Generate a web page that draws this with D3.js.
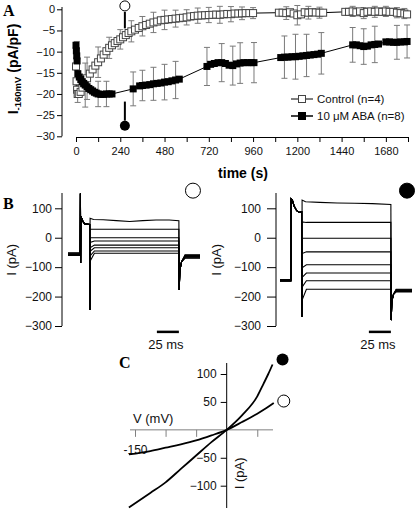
<!DOCTYPE html>
<html><head><meta charset="utf-8">
<script src="https://cdn.jsdelivr.net/npm/d3@7"></script>
<style>
html,body{margin:0;padding:0;background:#fff;}
svg{display:block;font-family:Arial,"Liberation Sans",sans-serif;}
</style></head><body>
<svg id="c" width="415" height="511"></svg>
<script>
// ===== Panel A data =====
const timeTicks = [0,240,480,720,960,1200,1440,1680];
const timeMinorTicks = [0,120,240,360,480,600,720,840,960,1080,1200,1320,1440,1560,1680,1800];
const yTicksA = [0,-5,-10,-15,-20,-25,-30];
const legendLabels = ["Control (n=4)", "10 \u03bcM ABA (n=8)"];

const ctrlT = [0,3,6,9,15,25,35,45,60,75,90,105,120,135,150,165,180,195,210,225,240,255,270,285,300,320,340,360,380,400,420,440,460,480,500,520,540,560,580,600,620,640,660,680,700,720,740,760,780,800,820,840,860,880,900,920,940,960,
 1100,1120,1140,1160,1180,1200,1220,1240,1260,1280,1300,1320,1340,
 1460,1480,1500,1520,1540,1560,1580,1600,1620,1640,1660,1680,1700,1720,1740,1760,1780,1795];
const ctrlI = [-13.5,-17,-19,-20,-20,-19.5,-18.5,-17.5,-16.3,-15.2,-14.2,-13.3,-12.5,-11.6,-10.7,-9.9,-9.1,-8.5,-8.0,-7.5,-7.1,-6.6,-6.1,-5.6,-5.2,-4.8,-4.4,-4.0,-3.7,-3.4,-3.1,-2.9,-2.6,-2.5,-2.4,-2.3,-2.2,-2.1,-2.0,-1.9,-1.7,-1.6,-1.5,-1.45,-1.4,-1.35,-1.3,-1.25,-1.3,-1.2,-1.1,-1.15,-1.0,-1.0,-0.95,-0.9,-0.9,-0.9,
 -0.8,-0.8,-0.9,-0.7,-1.0,-1.4,-1.2,-0.7,-0.8,-0.7,-0.75,-0.8,-0.8,
 -0.6,-0.6,-0.5,-0.7,-0.5,-0.9,-0.6,-0.5,-0.6,-0.5,-0.6,-0.5,-0.6,-0.6,-0.8,-0.9,-1.0,-1.2];
const ctrlErrT  = [9,60,120,180,240,300,360,420,480,540,600,660,720,780,840,900,960,1140,1200,1260,1320,1500,1560,1620,1680,1740,1780];
const ctrlErrSE = [2,5,3.6,2.5,2.3,2.5,2.3,2.4,2.3,2,1.8,1.8,1.8,2,1.8,1.5,1.3,1.5,2.3,1.5,1.3,1.2,1.3,1.3,1.2,1.2,1.2];

const abaT = [0,2,4,6,10,18,26,34,42,50,60,70,80,90,100,110,120,135,150,165,180,195,
 310,
 345,360,380,400,420,440,460,480,500,520,540,560,
 710,730,750,770,790,810,830,850,870,890,910,930,950,965,
 1110,1130,1150,1170,1190,1210,1230,1250,1270,1290,1310,1330,
 1500,1520,1540,1560,1580,1600,1620,1640,
 1680,1700,1720,1740,1760,1780,1795];
const abaI = [-8.5,-9.8,-11,-12.2,-15.2,-16,-16.6,-17.1,-17.5,-17.9,-18.3,-18.7,-19,-19.3,-19.6,-19.8,-20,-20.1,-20.1,-20,-20,-20,
 -18.8,
 -18.1,-18,-17.9,-17.8,-17.6,-17.5,-17.4,-17.2,-17.1,-16.9,-16.7,-16.5,
 -13.5,-13.0,-12.8,-12.6,-12.6,-12.8,-13.2,-13.3,-12.9,-12.7,-12.6,-12.6,-12.6,-12.6,
 -11.4,-11.3,-11.3,-11.2,-11.2,-11.1,-11.0,-10.9,-10.8,-10.7,-10.6,-10.4,
 -8.4,-8.4,-8.6,-8.8,-8.7,-8.4,-8.3,-8.2,
 -7.7,-7.7,-7.8,-7.8,-7.7,-7.7,-7.6];
const abaErrT  = [4,50,120,165,310,360,420,480,540,710,790,850,890,965,1130,1190,1250,1330,1500,1560,1620,1740,1795];
const abaErrSE = [3.4,5.2,3,3,4,3.6,3.9,4.2,4.4,4.5,4.5,4.6,4.8,4.75,5,5.3,5,4.9,4.1,4.2,4.3,4,3.9];

const markT = 265;
const openMark = [0.8, -0.6, -4.5];     // circle centre, line top, line bottom
const filledMark = [-27.5, -21.8, -26.3];

// ===== Panel B data (current traces, pA; time in ms from step onset) =====
const bTicks = [100,0,-100,-200,-300];
const ctrlHold   = [-51,-53,-55,-56,-57,-58,-59,-60];
const ctrlLevels = [62,29,0,-11,-25,-34,-45,-53];
const ctrlOnset  = [66,29,0,-16,-34,-46,-62,-80];
const ctrlTail   = [-58,-60,-62,-63,-64,-66,-68,-70];
const ctrlPreT = [-10.9,-10.6,-10.3,-8,-6,-0.4,-0.15];
const ctrlPreI = [150,-86,72,55,47,45,-246];
const ctrlTailT = [101.3,102.2,104];
const ctrlTailI = [-178,-110,-82];
const ctrlTopT = [0.1,4,15,30,45,60,75,90,101];
const ctrlTopI = [66,62,61,58,55,58,60,60,58];

const abaHold   = [-142,-143,-144,-145,-146,-147,-147,-148];
const abaLevels = [118,52,-2,-48,-92,-120,-146,-175];
const abaOnset  = [128,54,-2,-54,-102,-135,-168,-212];
const abaTail   = [-175,-177,-178,-180,-181,-182,-183,-184];
const abaPreT = [-12.3,-11,-9,-6,-3,-0.4,-0.15];
const abaPreI = [132,128,108,92,86,88,-269];
const abaTailT = [101.3,102.2,104];
const abaTailI = [-280,-215,-192];
const abaTopT = [0.1,4,20,40,60,80,101];
const abaTopI = [128,122,120,118,117,116,113];

const scaleBarMs = [76,101];

// ===== Panel C data (I-V ramps) =====
const ivAbaV  = [-160,-125,-100,-75,-50,-25,0,25,50,60,68,75];
const ivAbaI  = [-139,-113,-94,-70,-46,-22,0,26,60,82,100,117];
const ivCtrlV = [-160,-125,-100,-75,-50,-25,0,25,50,65,77];
const ivCtrlI = [-44,-38,-32,-26,-19,-10,0,14,29,39,48];
const cYTicks = [100,50,-50,-100];
const cXTicks = [-150,-100,-50,50];

// ================== drawing ==================
const svg = d3.select("#c");
svg.append("rect").attr("width",415).attr("height",511).attr("fill","#fff");
const panelFont = "'Liberation Serif','Times New Roman',serif";

function styleAxis(g, size, color){
  g.selectAll("text").attr("font-size", size).attr("fill","#111").attr("font-family","Arial, 'Liberation Sans', sans-serif");
  g.selectAll("line").attr("stroke", color||"#000");
  g.selectAll("path").attr("stroke", color||"#000");
}

// ---------- Panel A ----------
const xA = d3.scaleLinear().domain([0,1800]).range([76,408]);
const yA = d3.scaleLinear().domain([-30,0]).range([136.3,9.3]);
const gA = svg.append("g");

const yAx = gA.append("g").attr("transform","translate(62,0)")
  .call(d3.axisLeft(yA).tickValues(yTicksA).tickSize(5).tickSizeOuter(0).tickPadding(2).tickFormat(d3.format("d")));
styleAxis(yAx, 11);
yAx.select(".domain").attr("d","M0,7V136.3");
const xAx = gA.append("g").attr("transform","translate(0,137)")
  .call(d3.axisBottom(xA).tickValues(timeMinorTicks).tickSize(5).tickSizeOuter(0).tickPadding(5)
    .tickFormat(d => timeTicks.includes(d) ? d : ""));
styleAxis(xAx, 11);

gA.append("text").attr("x",243).attr("y",178).attr("text-anchor","middle")
  .attr("font-size",14).attr("font-weight","bold").text("time (s)");
const yl = gA.append("text").attr("transform","translate(18,69) rotate(-90)")
  .attr("text-anchor","middle").attr("font-size",14).attr("font-weight","bold");
yl.append("tspan").text("I");
yl.append("tspan").attr("font-size",9.5).attr("dy",3).text("-160mV");
yl.append("tspan").attr("dy",-3).text(" (pA/pF)");
gA.append("text").attr("x",3).attr("y",16).attr("font-family",panelFont)
  .attr("font-size",16).attr("font-weight","bold").text("A");

const ctrlData = ctrlT.map((t,i)=>[t,ctrlI[i]]);
const abaData = abaT.map((t,i)=>[t,abaI[i]]);
function errData(ts, se, T, I){ return ts.map((t,k)=>{const i=T.indexOf(t); return [t, I[i], se[k]];}); }
const ctrlErr = errData(ctrlErrT, ctrlErrSE, ctrlT, ctrlI);
const abaErr = errData(abaErrT, abaErrSE, abaT, abaI);

const eg = gA.append("g").attr("stroke","#7a7a7a").attr("stroke-width",1).attr("fill","none");
[...ctrlErr, ...abaErr].forEach(d=>{
  const x = xA(d[0]), y1 = yA(d[1]+d[2]), y2 = yA(d[1]-d[2]);
  eg.append("line").attr("x1",x).attr("x2",x).attr("y1",y1).attr("y2",y2);
  eg.append("line").attr("x1",x-3).attr("x2",x+3).attr("y1",y1).attr("y2",y1);
  eg.append("line").attr("x1",x-3).attr("x2",x+3).attr("y1",y2).attr("y2",y2);
});

const lineA = d3.line().x(d=>xA(d[0])).y(d=>yA(d[1]));
gA.append("path").attr("d",lineA(ctrlData)).attr("fill","none").attr("stroke","#000").attr("stroke-width",1);
gA.append("path").attr("d",lineA(abaData)).attr("fill","none").attr("stroke","#000").attr("stroke-width",1);

const sq = 7;
gA.append("g").selectAll("rect").data(ctrlData).join("rect")
  .attr("x",d=>xA(d[0])-sq/2).attr("y",d=>yA(d[1])-sq/2).attr("width",sq).attr("height",sq)
  .attr("fill","#fff").attr("stroke","#444").attr("stroke-width",1);
gA.append("g").selectAll("rect").data(abaData).join("rect")
  .attr("x",d=>xA(d[0])-sq/2).attr("y",d=>yA(d[1])-sq/2).attr("width",sq).attr("height",sq)
  .attr("fill","#000");

// markers at the time of B traces
gA.append("line").attr("x1",xA(markT)).attr("x2",xA(markT)).attr("y1",yA(openMark[1])).attr("y2",yA(openMark[2]))
  .attr("stroke","#000").attr("stroke-width",2);
gA.append("circle").attr("cx",xA(markT)).attr("cy",yA(openMark[0])).attr("r",5).attr("fill","#fff").attr("stroke","#000");
gA.append("line").attr("x1",xA(markT)).attr("x2",xA(markT)).attr("y1",yA(filledMark[1])).attr("y2",yA(filledMark[2]))
  .attr("stroke","#000").attr("stroke-width",2);
gA.append("circle").attr("cx",xA(markT)).attr("cy",yA(filledMark[0])).attr("r",5).attr("fill","#000");

// legend
const lg = gA.append("g");
legendLabels.forEach((lab,i)=>{
  const y = 99 + i*17;
  lg.append("line").attr("x1",291).attr("x2",313).attr("y1",y).attr("y2",y).attr("stroke","#000").attr("stroke-width", i? 1.5:1);
  lg.append("rect").attr("x",302-sq/2).attr("y",y-sq/2).attr("width",sq).attr("height",sq)
    .attr("fill", i? "#000":"#fff").attr("stroke", i? "#000":"#444");
  lg.append("text").attr("x",317).attr("y",y+4).attr("font-size",11.5).attr("fill","#111").text(lab);
});

// ---------- Panel B ----------
const yB = d3.scaleLinear().domain([-300,100]).range([326,208.3]);
function buildTrace(hold, preT, preI, profT, profI, tailT, tailI, tailLevel, settleT){
  const pts = [[-25, hold], [preT[0]-0.3, hold]];
  preT.forEach((t,i)=>pts.push([t, preI[i]]));
  profT.forEach((t,i)=>pts.push([t, profI[i]]));
  tailT.forEach((t,i)=>pts.push([t, tailI[i]]));
  pts.push([settleT, tailLevel]);
  pts.push([125, tailLevel]);
  return pts;
}
function drawB(axisX, xRange, tickLen, tickPad, labelOff, hold, levels, onset, tail, preT, preI, tailT, tailI, topT, topI, settleT, circleFill, circleT){
  const g = svg.append("g");
  const xB = d3.scaleLinear().domain([-25,125]).range(xRange);
  const ax = g.append("g").attr("transform",`translate(${axisX},0)`)
    .call(d3.axisLeft(yB).tickValues(bTicks).tickSize(tickLen).tickSizeOuter(0).tickPadding(tickPad));
  styleAxis(ax, 12);
  ax.select(".domain").attr("d",`M0,193V${yB(-300)}`);
  g.append("text").attr("transform",`translate(${axisX-labelOff},${yB(-75)}) rotate(-90)`)
    .attr("text-anchor","middle").attr("font-size",13).attr("fill","#111").text("I (pA)");
  const line = d3.line().x(d=>xB(d[0])).y(d=>yB(d[1]));
  levels.forEach((lv,i)=>{
    const pT = i===0 ? topT : [0.1, 5, 101];
    const pI = i===0 ? topI : [onset[i], lv, lv];
    const pts = buildTrace(hold[i], preT, preI, pT, pI, tailT, tailI, tail[i], settleT);
    g.append("path").attr("d",line(pts)).attr("fill","none").attr("stroke","#000").attr("stroke-width",1.1);
  });
  // scale bar
  g.append("line").attr("x1",xB(scaleBarMs[0])).attr("x2",xB(scaleBarMs[1]))
    .attr("y1",yB(-320)).attr("y2",yB(-320)).attr("stroke","#000").attr("stroke-width",2.5);
  g.append("text").attr("x",xB((scaleBarMs[0]+scaleBarMs[1])/2)-2).attr("y",yB(-320)+17)
    .attr("text-anchor","middle").attr("font-size",13).attr("fill","#111").text("25 ms");
  g.append("circle").attr("cx",xB(circleT)).attr("cy",yB(160)).attr("r",7.5)
    .attr("fill",circleFill).attr("stroke","#000").attr("stroke-width",1);
}
drawB(62, [68,200], 7, 3, 46, ctrlHold, ctrlLevels, ctrlOnset, ctrlTail, ctrlPreT, ctrlPreI, ctrlTailT, ctrlTailI, ctrlTopT, ctrlTopI, 108, "#fff", 117);
drawB(276, [280,412], 9, 6, 55, abaHold, abaLevels, abaOnset, abaTail, abaPreT, abaPreI, abaTailT, abaTailI, abaTopT, abaTopI, 107, "#000", 119.3);
svg.append("text").attr("x",3).attr("y",209).attr("font-family",panelFont)
  .attr("font-size",16).attr("font-weight","bold").text("B");

// ---------- Panel C ----------
const xC = d3.scaleLinear().domain([-150,0]).range([135,226.7]);
const yC = d3.scaleLinear().domain([-100,100]).range([485.7,374]);
const gC = svg.append("g");
const cxAx = gC.append("g").attr("transform",`translate(0,${yC(0)})`)
  .call(d3.axisBottom(xC).tickValues(cXTicks).tickSize(7).tickSizeOuter(0).tickPadding(9)
    .tickFormat(d => d===-150 ? "-150" : ""));
styleAxis(cxAx, 12, "#808080");
cxAx.select(".domain").attr("d","M130,0H273");
const cyAx = gC.append("g").attr("transform",`translate(${xC(0)},0)`)
  .call(d3.axisLeft(yC).tickValues(cYTicks).tickSize(6).tickSizeOuter(0).tickPadding(4));
styleAxis(cyAx, 12);
cyAx.select(".domain").attr("d","M0,363V508");
gC.append("text").attr("x",133).attr("y",423).attr("font-size",13).attr("fill","#111").text("V (mV)");
gC.append("text").attr("transform",`translate(${xC(0)+17},${yC(-78)}) rotate(-90)`)
  .attr("text-anchor","middle").attr("font-size",13).attr("fill","#111").text("I (pA)");
gC.append("text").attr("x",119).attr("y",368).attr("font-family",panelFont)
  .attr("font-size",16).attr("font-weight","bold").text("C");

const lineC = d3.line().x(d=>xC(d[0])).y(d=>yC(d[1])).curve(d3.curveMonotoneX);
const ivAba = ivAbaV.map((v,i)=>[v,ivAbaI[i]]);
const ivCtrl = ivCtrlV.map((v,i)=>[v,ivCtrlI[i]]);
gC.append("path").attr("d",lineC(ivAba)).attr("fill","none").attr("stroke","#000").attr("stroke-width",1.8);
gC.append("path").attr("d",lineC(ivCtrl)).attr("fill","none").attr("stroke","#000").attr("stroke-width",1.8);
const lastA = ivAba[ivAba.length-1], lastC = ivCtrl[ivCtrl.length-1];
gC.append("circle").attr("cx",xC(lastA[0])+10).attr("cy",yC(lastA[1])-5).attr("r",6).attr("fill","#000");
gC.append("circle").attr("cx",xC(lastC[0])+10).attr("cy",yC(lastC[1])-2).attr("r",6)
  .attr("fill","#fff").attr("stroke","#000").attr("stroke-width",1);
</script>
</body></html>
